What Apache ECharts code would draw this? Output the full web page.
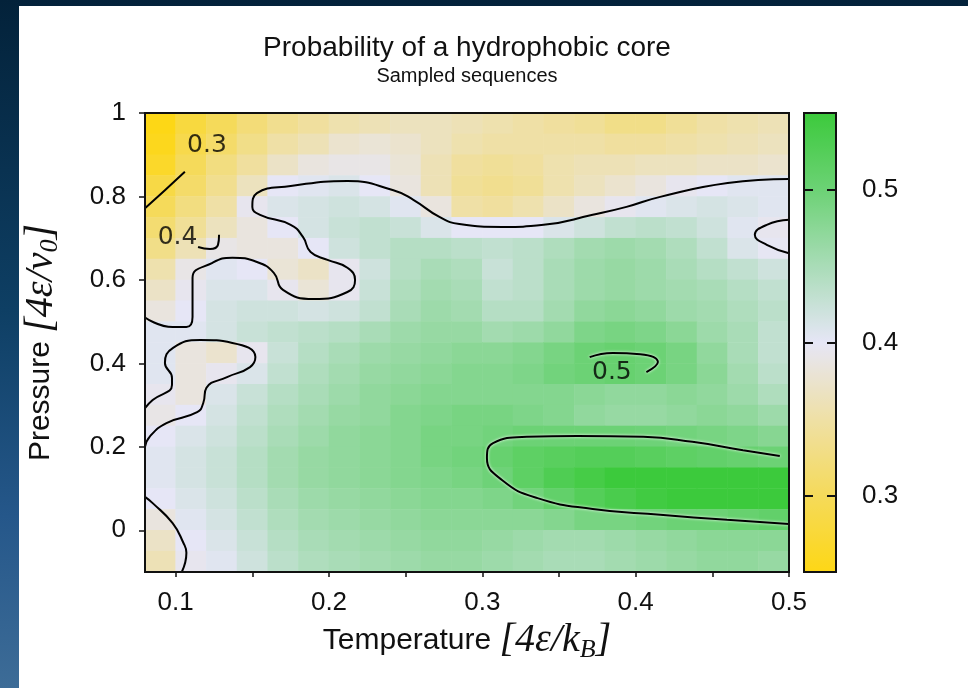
<!DOCTYPE html>
<html>
<head>
<meta charset="utf-8">
<title>Probability of a hydrophobic core</title>
<script src="https://cdn.jsdelivr.net/npm/echarts@6/dist/echarts.min.js"></script>
<style>
  html, body { margin: 0; padding: 0; }
  #chart { width: 968px; height: 688px; }
</style>
</head>
<body>
<div id="chart"></div>
<script>
// cell centres of the sampled grid
var tempCenters = [0.09, 0.11, 0.13, 0.15, 0.17, 0.19, 0.21, 0.23, 0.25, 0.27, 0.29,
  0.31, 0.33, 0.35, 0.37, 0.39, 0.41, 0.43, 0.45, 0.47, 0.49];
var pressCenters = [-0.075, -0.025, 0.025, 0.075, 0.125, 0.175, 0.225, 0.275, 0.325, 0.375, 0.425,
  0.475, 0.525, 0.575, 0.625, 0.675, 0.725, 0.775, 0.825, 0.875, 0.925, 0.975];

// probability, one row per pressure, top row (p = 0.975) first
var probRows = [
  [0.25, 0.28, 0.30, 0.32, 0.335, 0.345, 0.355, 0.36, 0.365, 0.365, 0.36, 0.355, 0.35, 0.345, 0.34, 0.33, 0.33, 0.34, 0.35, 0.355, 0.36],
  [0.255, 0.29, 0.31, 0.33, 0.35, 0.36, 0.375, 0.38, 0.375, 0.365, 0.355, 0.35, 0.35, 0.35, 0.35, 0.345, 0.345, 0.35, 0.355, 0.36, 0.365],
  [0.265, 0.30, 0.325, 0.345, 0.37, 0.385, 0.39, 0.39, 0.38, 0.36, 0.345, 0.34, 0.345, 0.355, 0.36, 0.36, 0.365, 0.365, 0.37, 0.37, 0.375],
  [0.285, 0.31, 0.335, 0.365, 0.40, 0.405, 0.41, 0.40, 0.385, 0.36, 0.34, 0.335, 0.34, 0.355, 0.365, 0.375, 0.385, 0.395, 0.40, 0.405, 0.405],
  [0.30, 0.325, 0.35, 0.395, 0.41, 0.415, 0.42, 0.415, 0.405, 0.385, 0.35, 0.345, 0.355, 0.37, 0.385, 0.395, 0.405, 0.41, 0.415, 0.41, 0.405],
  [0.315, 0.34, 0.365, 0.385, 0.40, 0.415, 0.425, 0.43, 0.425, 0.41, 0.40, 0.40, 0.40, 0.41, 0.42, 0.43, 0.435, 0.43, 0.42, 0.405, 0.395],
  [0.33, 0.36, 0.39, 0.385, 0.385, 0.40, 0.42, 0.43, 0.44, 0.44, 0.435, 0.43, 0.435, 0.445, 0.455, 0.46, 0.455, 0.445, 0.43, 0.41, 0.398],
  [0.355, 0.39, 0.405, 0.40, 0.38, 0.37, 0.395, 0.42, 0.44, 0.45, 0.445, 0.425, 0.435, 0.45, 0.46, 0.465, 0.46, 0.45, 0.44, 0.43, 0.42],
  [0.37, 0.395, 0.41, 0.41, 0.395, 0.38, 0.395, 0.425, 0.445, 0.455, 0.45, 0.43, 0.435, 0.45, 0.46, 0.465, 0.46, 0.455, 0.45, 0.44, 0.43],
  [0.385, 0.40, 0.415, 0.42, 0.42, 0.415, 0.42, 0.43, 0.45, 0.46, 0.455, 0.44, 0.44, 0.455, 0.47, 0.475, 0.47, 0.46, 0.455, 0.445, 0.435],
  [0.405, 0.405, 0.415, 0.425, 0.43, 0.435, 0.44, 0.45, 0.46, 0.465, 0.465, 0.455, 0.46, 0.47, 0.485, 0.49, 0.485, 0.475, 0.46, 0.45, 0.43],
  [0.405, 0.385, 0.375, 0.395, 0.425, 0.44, 0.45, 0.46, 0.465, 0.47, 0.475, 0.475, 0.48, 0.49, 0.50, 0.505, 0.50, 0.49, 0.47, 0.45, 0.43],
  [0.405, 0.385, 0.395, 0.41, 0.43, 0.445, 0.455, 0.465, 0.47, 0.475, 0.48, 0.48, 0.485, 0.495, 0.50, 0.505, 0.50, 0.49, 0.475, 0.455, 0.435],
  [0.395, 0.385, 0.41, 0.425, 0.44, 0.45, 0.46, 0.47, 0.475, 0.48, 0.48, 0.48, 0.48, 0.48, 0.475, 0.47, 0.47, 0.475, 0.47, 0.46, 0.445],
  [0.39, 0.40, 0.415, 0.43, 0.445, 0.455, 0.465, 0.47, 0.48, 0.485, 0.49, 0.49, 0.485, 0.48, 0.47, 0.465, 0.465, 0.47, 0.475, 0.47, 0.46],
  [0.40, 0.41, 0.42, 0.435, 0.45, 0.46, 0.47, 0.475, 0.48, 0.49, 0.49, 0.495, 0.50, 0.50, 0.50, 0.50, 0.498, 0.495, 0.49, 0.485, 0.478],
  [0.405, 0.415, 0.425, 0.44, 0.455, 0.465, 0.47, 0.475, 0.48, 0.49, 0.495, 0.505, 0.515, 0.52, 0.525, 0.525, 0.52, 0.515, 0.51, 0.505, 0.50],
  [0.405, 0.415, 0.425, 0.44, 0.455, 0.465, 0.47, 0.475, 0.48, 0.485, 0.49, 0.498, 0.515, 0.53, 0.54, 0.55, 0.555, 0.56, 0.56, 0.56, 0.56],
  [0.40, 0.41, 0.42, 0.435, 0.45, 0.46, 0.465, 0.47, 0.475, 0.48, 0.48, 0.485, 0.495, 0.51, 0.525, 0.535, 0.545, 0.55, 0.555, 0.56, 0.56],
  [0.385, 0.405, 0.415, 0.43, 0.445, 0.455, 0.46, 0.465, 0.47, 0.475, 0.475, 0.475, 0.475, 0.48, 0.49, 0.49, 0.495, 0.50, 0.50, 0.505, 0.51],
  [0.37, 0.40, 0.41, 0.425, 0.44, 0.45, 0.455, 0.46, 0.465, 0.47, 0.47, 0.465, 0.46, 0.455, 0.455, 0.46, 0.465, 0.47, 0.475, 0.475, 0.475],
  [0.36, 0.395, 0.405, 0.42, 0.435, 0.445, 0.45, 0.455, 0.46, 0.465, 0.465, 0.46, 0.455, 0.45, 0.45, 0.455, 0.46, 0.465, 0.47, 0.47, 0.465]
];

// contour lines [temperature, pressure]
var contour03 = [[0.080, 0.772], [0.093, 0.815], [0.106, 0.859]];
var contour04Main = [
  [0.500, 0.842], [0.460, 0.832], [0.416, 0.799], [0.394, 0.775], [0.372, 0.756], [0.340, 0.732],
  [0.313, 0.727], [0.285, 0.734], [0.272, 0.751], [0.255, 0.792], [0.242, 0.815], [0.212, 0.837],
  [0.175, 0.825], [0.153, 0.808], [0.150, 0.775], [0.155, 0.756], [0.175, 0.732], [0.183, 0.703],
  [0.188, 0.667], [0.199, 0.648], [0.212, 0.629], [0.217, 0.600], [0.212, 0.571], [0.190, 0.554],
  [0.170, 0.576], [0.164, 0.617], [0.153, 0.643], [0.137, 0.653], [0.124, 0.641], [0.111, 0.605],
  [0.111, 0.552], [0.111, 0.511], [0.107, 0.487], [0.098, 0.487], [0.080, 0.510]
];
var contour04Hook = [[0.1146, 0.679], [0.1224, 0.674], [0.1276, 0.684], [0.1283, 0.708]];
var contour04Bump = [
  [0.080, 0.293], [0.085, 0.312], [0.0976, 0.348], [0.0976, 0.365], [0.093, 0.401], [0.0983, 0.437],
  [0.116, 0.456], [0.137, 0.449], [0.152, 0.415], [0.1485, 0.391], [0.1335, 0.367], [0.120, 0.341],
  [0.118, 0.305], [0.114, 0.283], [0.094, 0.257], [0.083, 0.224], [0.080, 0.200]
];
var contour04Corner = [[0.080, 0.080], [0.085, 0.065], [0.098, 0.017], [0.105, -0.030], [0.107, -0.054], [0.104, -0.100]];
var contour04Right = [[0.500, 0.744], [0.4855, 0.732], [0.4777, 0.708], [0.4855, 0.684], [0.500, 0.664]];
var contour05Small = [[0.370, 0.415], [0.385, 0.425], [0.403, 0.422], [0.4145, 0.403], [0.407, 0.379]];
var contour05Big = [
  [0.494, 0.178], [0.470, 0.192], [0.437, 0.212], [0.405, 0.224], [0.362, 0.226], [0.329, 0.224],
  [0.307, 0.209], [0.303, 0.173], [0.313, 0.120], [0.336, 0.077], [0.372, 0.051], [0.416, 0.037],
  [0.4595, 0.025], [0.500, 0.015]
];
var labelPos = [[0.1204, 0.923], [0.1012, 0.702], [0.3845, 0.377]];
var labelText = ['0.3', '0.4', '0.5'];

// axis ticks and labels
var tempTicks = [0.1, 0.15, 0.2, 0.25, 0.3, 0.35, 0.4, 0.45, 0.5];
var tempLabels = [0.1, 0.2, 0.3, 0.4, 0.5];
var pressLabels = [0, 0.2, 0.4, 0.6, 0.8, 1];
var barLabels = [0.3, 0.4, 0.5];

var colorStops = ['#fdd716', '#f5da5a', '#efe0a6', '#e6e6f6', '#a9dcb7', '#6cd275', '#3cca3c'];

var heatData = [];
probRows.forEach(function (row, r) {
  var yi = pressCenters.length - 1 - r;
  row.forEach(function (v, xi) {
    heatData.push([xi, yi, v]);
  });
});

var sans = 'Liberation Sans';
var serif = 'Liberation Serif';

// axis name: upright word, then italic units with a subscript
var nameRich = {
  a: { fontFamily: sans, fontSize: 30, color: '#111', lineHeight: 44 },
  b: { fontFamily: serif, fontStyle: 'italic', fontSize: 40, color: '#111', lineHeight: 44 },
  c: { fontFamily: serif, fontStyle: 'italic', fontSize: 26, color: '#111', lineHeight: 26, verticalAlign: 'bottom', padding: [10, 0, 0, 0] }
};

function contour(points, halo) {
  return {
    type: 'line',
    xAxisIndex: 1,
    yAxisIndex: 1,
    data: points,
    smooth: 0.5,
    symbol: 'none',
    silent: true,
    z: 5,
    lineStyle: {
      color: '#000',
      width: 2,
      shadowColor: halo ? '#fff' : 'rgba(0,0,0,0)',
      shadowBlur: halo ? 3 : 0
    }
  };
}

var chart = echarts.init(document.getElementById('chart'));
chart.setOption({
  animation: false,
  backgroundColor: new echarts.graphic.LinearGradient(0, 0, 0, 1, [
    { offset: 0, color: '#03223a' },
    { offset: 0.45, color: '#0e3f64' },
    { offset: 0.75, color: '#25578a' },
    { offset: 1, color: '#3d6c97' }
  ]),
  graphic: [{
    type: 'rect', left: 19, top: 6, z: -10, silent: true,
    shape: { width: 949, height: 682 },
    style: { fill: '#fff' }
  }],
  title: {
    text: 'Probability of a hydrophobic core',
    subtext: 'Sampled sequences',
    left: 462,
    top: 29,
    textAlign: 'center',
    itemGap: 4,
    textStyle: { fontFamily: sans, fontSize: 28, fontWeight: 'normal', color: '#111' },
    subtextStyle: { fontFamily: sans, fontSize: 20, color: '#111' }
  },
  grid: [
    { left: 145, top: 113, width: 644, height: 459 },
    { left: 145, top: 113, width: 644, height: 459, show: true, borderColor: '#111', borderWidth: 2, z: 10 },
    { left: 804, top: 113, width: 32, height: 459, show: true, borderColor: '#111', borderWidth: 2, z: 10 }
  ],
  visualMap: {
    type: 'continuous',
    seriesIndex: 0,
    min: 0.25,
    max: 0.55,
    calculable: false,
    hoverLink: false,
    left: 804,
    top: 113,
    padding: 0,
    itemWidth: 32,
    itemHeight: 459,
    inRange: { color: colorStops }
  },
  xAxis: [
    { gridIndex: 0, type: 'category', data: tempCenters, show: false },
    {
      gridIndex: 1, type: 'value', min: 0.08, max: 0.5, position: 'bottom', z: 10,
      axisLine: { show: false, onZero: false },
      splitLine: { show: false },
      axisTick: { customValues: tempTicks, length: 5, lineStyle: { color: '#111', width: 1.5 } },
      axisLabel: { customValues: tempLabels, margin: 18, fontFamily: sans, fontSize: 26, color: '#111' },
      name: '{a|Temperature }{b|[4ε/k}{c|B}{b|]}',
      nameLocation: 'middle',
      nameGap: 31,
      nameTextStyle: { rich: nameRich }
    },
    { gridIndex: 2, type: 'value', show: false }
  ],
  yAxis: [
    { gridIndex: 0, type: 'category', data: pressCenters, show: false },
    {
      gridIndex: 1, type: 'value', min: -0.1, max: 1, position: 'left', z: 10,
      axisLine: { show: false, onZero: false },
      splitLine: { show: false },
      axisTick: { customValues: pressLabels, length: 6, lineStyle: { color: '#111', width: 1.5 } },
      axisLabel: { customValues: pressLabels, margin: 19, fontFamily: sans, fontSize: 26, color: '#111' },
      name: '{a|Pressure }{b|[4ε/v}{c|0}{b|]}',
      nameLocation: 'middle',
      nameGap: 82,
      nameTextStyle: { rich: nameRich }
    },
    {
      gridIndex: 2, type: 'value', min: 0.25, max: 0.55, position: 'left', z: 10,
      axisLine: { show: false },
      splitLine: { show: false },
      axisTick: { inside: true, customValues: barLabels, length: 9, lineStyle: { color: '#111', width: 2 } },
      axisLabel: { show: false }
    },
    {
      gridIndex: 2, type: 'value', min: 0.25, max: 0.55, position: 'right', z: 10,
      axisLine: { show: false },
      splitLine: { show: false },
      axisTick: { inside: true, customValues: barLabels, length: 9, lineStyle: { color: '#111', width: 2 } },
      axisLabel: { customValues: barLabels, margin: 26, fontFamily: sans, fontSize: 26, color: '#111' }
    }
  ],
  series: [
    {
      type: 'heatmap',
      xAxisIndex: 0,
      yAxisIndex: 0,
      data: heatData,
      silent: true,
      itemStyle: { borderWidth: 0 }
    },
    contour(contour03, false),
    contour(contour04Main, false),
    contour(contour04Hook, false),
    contour(contour04Bump, false),
    contour(contour04Corner, false),
    contour(contour04Right, false),
    contour(contour05Small, true),
    contour(contour05Big, true),
    {
      type: 'scatter',
      xAxisIndex: 1,
      yAxisIndex: 1,
      data: labelPos,
      symbolSize: 0,
      silent: true,
      z: 6,
      label: {
        show: true,
        position: 'inside',
        formatter: function (p) { return labelText[p.dataIndex]; },
        fontFamily: 'DejaVu Sans',
        fontSize: 25,
        color: '#000'
      }
    }
  ]
});
</script>
</body>
</html>
